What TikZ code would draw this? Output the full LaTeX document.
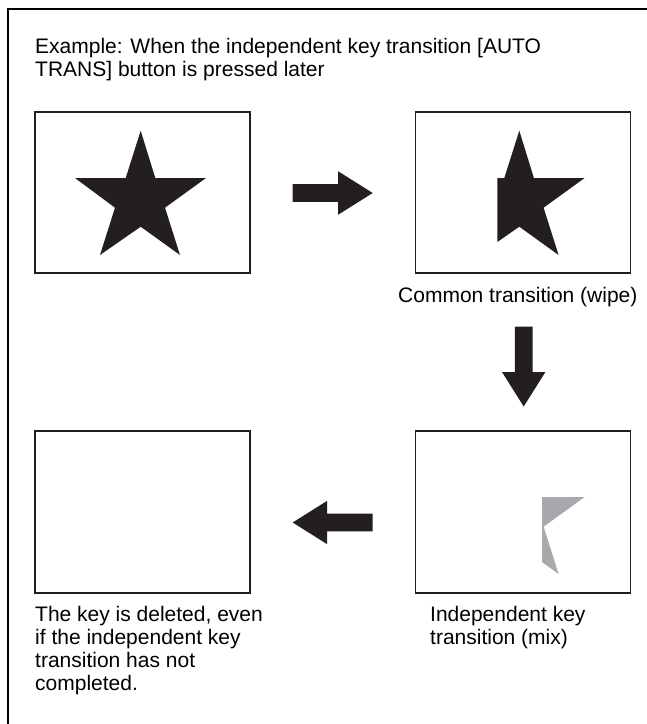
\documentclass[tikz,border=0pt]{standalone}
\usepackage{fontspec}
\setmainfont{Liberation Sans}
\definecolor{ink}{HTML}{231F20}
\definecolor{keygray}{HTML}{A7A9AC}
\newcommand\starshape{(140.7,130.7) -- (155.3,178) -- (206,178) -- (165,207.7) -- (180,255) -- (140.7,226.7) -- (100,255) -- (115,207.7) -- (75,178) -- (125.7,178) -- cycle}
\tikzset{
  outerframe/.style={line width=2.5pt, draw=black},
  screen/.style={draw=ink, line width=1.7pt, rectangle, minimum width=215pt, minimum height=161pt, inner sep=0pt},
  caption/.style={font=\fontsize{21}{23}\selectfont, align=left, inner sep=0pt, anchor=north west, text=black},
  blockarrow/.pic={\fill[ink] (0,-8.8) -- (45.5,-8.8) -- (45.5,-21.7) -- (80,0) -- (45.5,21.7) -- (45.5,8.8) -- (0,8.8) -- cycle;}
}
\begin{document}
\begin{tikzpicture}[x=1pt,y=-1pt]
\useasboundingbox (0,0) rectangle (647,724);
\fill[white] (0,0) rectangle (647,724);
% outer frame (only top and left edges visible)
\draw[outerframe] (647,9) -- (8,9) -- (8,724);
% title
\node[caption] (title) at (35,38.5) {Example: When the independent key transition [AUTO\\TRANS] button is pressed later};
% screens
\node[screen] (s1) at (142.5,192.5) {};
\node[screen] (s2) at (523,192.5) {};
\node[screen, minimum height=162pt] (s3) at (523,512) {};
\node[screen, minimum height=162pt] (s4) at (142.5,512) {};
% star, full
\fill[ink] \starshape;
% star, wiped
\begin{scope}
  \clip (497.3,100) rectangle (640,280);
  \fill[ink, shift={(378.6,0)}] \starshape;
\end{scope}
% key, mixing out
\begin{scope}
  \clip (542,420) rectangle (640,600);
  \fill[keygray, shift={(378.6,319)}] \starshape;
\end{scope}
% block arrows
\pic (a1) at (292.7,193) {blockarrow};
\pic[rotate=-90] (a2) at (523.7,326.5) {blockarrow};
\pic[rotate=180] (a3) at (372.7,522.5) {blockarrow};
% captions
\node[caption] (c2) at (398,287) {Common transition (wipe)};
\node[caption] (c3) at (430,606.5) {Independent key\\transition (mix)};
\node[caption] (c4) at (35,606.5) {The key is deleted, even\\if the independent key\\transition has not\\completed.};
\end{tikzpicture}
\end{document}
